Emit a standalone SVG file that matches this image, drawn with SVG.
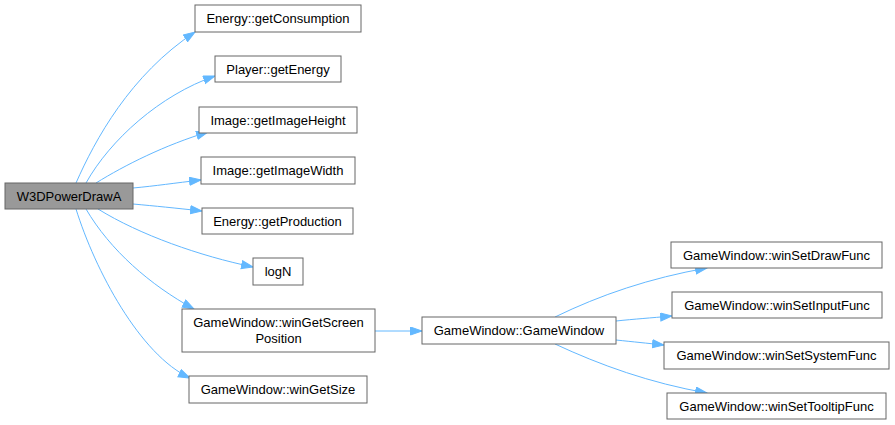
<svg xmlns="http://www.w3.org/2000/svg" width="895" height="425" viewBox="0 0 895 425">
<style>
.n rect{fill:#ffffff;stroke:#666666;stroke-width:1}
.m rect{fill:#999999;stroke:#666666;stroke-width:1}
text{font-family:"Liberation Sans",Arial,sans-serif;font-size:13px;fill:#000000;text-anchor:middle}
.e path{fill:none;stroke:#63b8ff;stroke-width:1}
</style>
<defs>
<marker id="a" markerUnits="userSpaceOnUse" markerWidth="13" markerHeight="10" refX="12" refY="4.5" orient="auto">
<path d="M0.5,0.5 L12,4.5 L0.5,8.5 Z" fill="#63b8ff" stroke="#63b8ff" stroke-width="1"/>
</marker>
</defs>
<g id="edges" class="e">
<path d="M76,183 C95,140 130,75 195,32" marker-end="url(#a)"/>
<path d="M86,183 C110,140 160,95 215,76" marker-end="url(#a)"/>
<path d="M96,183 C125,165 165,145 208,132" marker-end="url(#a)"/>
<path d="M133,188 C155,186 175,183 201,180" marker-end="url(#a)"/>
<path d="M133,204 C155,206 175,208 202,211" marker-end="url(#a)"/>
<path d="M98,209 C140,235 200,256 253,267" marker-end="url(#a)"/>
<path d="M86,209 C110,250 150,285 194,309" marker-end="url(#a)"/>
<path d="M76,209 C95,270 140,355 190,378" marker-end="url(#a)"/>
<path d="M375,331 L422,331" marker-end="url(#a)"/>
<path d="M555,317 C600,295 650,278 707,268" marker-end="url(#a)"/>
<path d="M616,321 C635,319 650,318 672,316" marker-end="url(#a)"/>
<path d="M616,340 C635,342 645,343 664,345" marker-end="url(#a)"/>
<path d="M555,344 C600,365 650,383 707,393" marker-end="url(#a)"/>
</g>
<g id="W3DPowerDrawA" class="m"><rect x="5" y="183" width="128" height="26"/><text x="69" y="200.5">W3DPowerDrawA</text></g>
<g id="getConsumption" class="n"><rect x="195" y="5" width="166" height="27"/><text x="278" y="23">Energy::getConsumption</text></g>
<g id="getEnergy" class="n"><rect x="215" y="56" width="126" height="26"/><text x="278" y="73.5">Player::getEnergy</text></g>
<g id="getImageHeight" class="n"><rect x="199" y="107" width="158" height="26"/><text x="278" y="124.5">Image::getImageHeight</text></g>
<g id="getImageWidth" class="n"><rect x="201" y="157" width="154" height="27"/><text x="278" y="175">Image::getImageWidth</text></g>
<g id="getProduction" class="n"><rect x="202" y="208" width="151" height="26"/><text x="277.5" y="225.5">Energy::getProduction</text></g>
<g id="logN" class="n"><rect x="253" y="258" width="50" height="27"/><text x="278" y="276">logN</text></g>
<g id="winGetScreenPosition" class="n"><rect x="182" y="309" width="193" height="43"/><text x="278.5" y="327">GameWindow::winGetScreen</text><text x="278.5" y="343">Position</text></g>
<g id="winGetSize" class="n"><rect x="189" y="376" width="178" height="27"/><text x="278" y="394">GameWindow::winGetSize</text></g>
<g id="GameWindow" class="n"><rect x="422" y="317" width="194" height="27"/><text x="519" y="335">GameWindow::GameWindow</text></g>
<g id="winSetDrawFunc" class="n"><rect x="671" y="242" width="211" height="26"/><text x="776.5" y="259.5">GameWindow::winSetDrawFunc</text></g>
<g id="winSetInputFunc" class="n"><rect x="672" y="292" width="210" height="26"/><text x="777" y="309.5">GameWindow::winSetInputFunc</text></g>
<g id="winSetSystemFunc" class="n"><rect x="664" y="342" width="225" height="27"/><text x="776.5" y="360">GameWindow::winSetSystemFunc</text></g>
<g id="winSetTooltipFunc" class="n"><rect x="667" y="393" width="219" height="26"/><text x="776.5" y="410.5">GameWindow::winSetTooltipFunc</text></g>
</svg>
